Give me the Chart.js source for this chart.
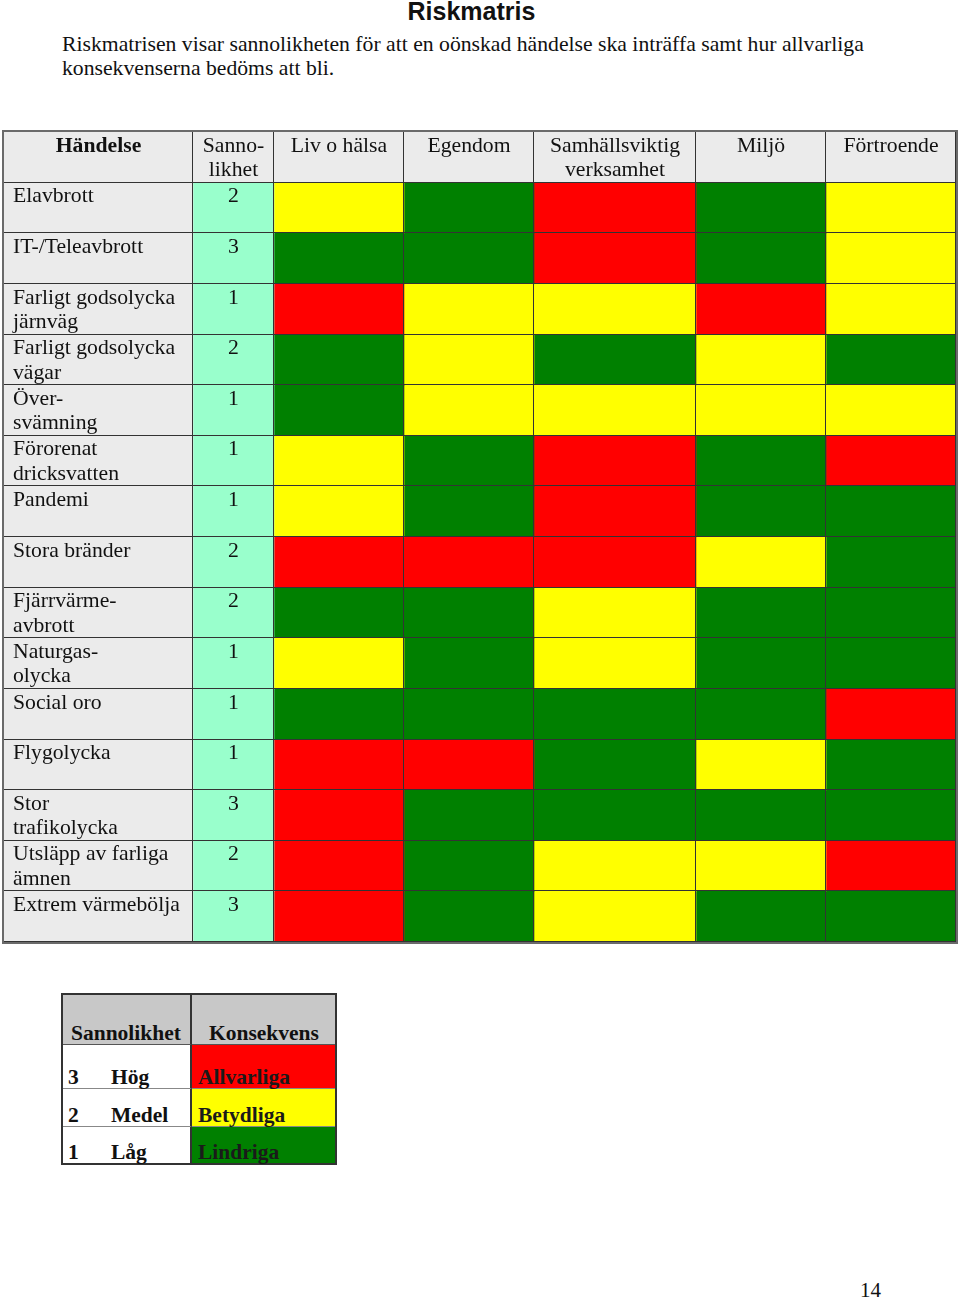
<!DOCTYPE html>
<html>
<head>
<meta charset="utf-8">
<script src="https://cdn.jsdelivr.net/npm/chart.js@4.4.1/dist/chart.umd.min.js"></script>
<style>
  body { margin: 0; width: 960px; height: 1299px; position: relative; background: #fff; font-family: "Liberation Serif", "Times New Roman", serif; color: #111; }
  h1 { position: absolute; left: 0; top: -3px; width: 943px; margin: 0; text-align: center; font: bold 25px "Liberation Sans", Arial, sans-serif; }
  .intro { position: absolute; left: 62px; top: 32px; width: 820px; margin: 0; font-size: 21.7px; line-height: 24px; }
  #wrap { position: absolute; left: 2px; top: 130px; width: 952px; height: 810px; border: 2px solid #6a6a6a; }
  #key { position: absolute; left: 61px; top: 993px; width: 272px; height: 168px; border: 2px solid #333; font-weight: bold; font-size: 21.5px; }
  #key div { position: absolute; box-sizing: border-box; }
  .pg { position: absolute; left: 860px; top: 1278px; font-size: 21px; }
</style>
</head>
<body>
<h1>Riskmatris</h1>
<p class="intro">Riskmatrisen visar sannolikheten för att en oönskad händelse ska inträffa samt hur allvarliga konsekvenserna bedöms att bli.</p>

<div id="wrap"><canvas id="matrix" width="952" height="810"></canvas></div>

<div id="key"></div>
<div class="pg">14</div>

<script>
// categories
const columns = [["Händelse"], ["Sanno-", "likhet"], ["Liv o hälsa"], ["Egendom"], ["Samhällsviktig", "verksamhet"], ["Miljö"], ["Förtroende"]];
const events = [
  ["Elavbrott"], ["IT-/Teleavbrott"], ["Farligt godsolycka", "järnväg"], ["Farligt godsolycka", "vägar"],
  ["Över-", "svämning"], ["Förorenat", "dricksvatten"], ["Pandemi"], ["Stora bränder"],
  ["Fjärrvärme-", "avbrott"], ["Naturgas-", "olycka"], ["Social oro"], ["Flygolycka"],
  ["Stor", "trafikolycka"], ["Utsläpp av farliga", "ämnen"], ["Extrem värmebölja"]
];
// sannolikhet 1-3
const likelihood = [2, 3, 1, 2, 1, 1, 1, 2, 2, 1, 1, 1, 3, 2, 3];
// konsekvens per column: 3 allvarliga, 2 betydliga, 1 lindriga
const livHalsa   = [2, 1, 3, 1, 1, 2, 2, 3, 1, 2, 1, 3, 3, 3, 3];
const egendom    = [1, 1, 2, 2, 2, 1, 1, 3, 1, 1, 1, 3, 1, 1, 1];
const samhall    = [3, 3, 2, 1, 2, 3, 3, 3, 2, 2, 1, 1, 1, 2, 2];
const miljo      = [1, 1, 3, 2, 2, 1, 1, 2, 1, 1, 1, 2, 1, 2, 1];
const fortroende = [2, 2, 2, 1, 2, 3, 1, 1, 1, 1, 3, 1, 1, 3, 1];
const consequences = [livHalsa, egendom, samhall, miljo, fortroende];

const legendLevels = ["Hög", "Medel", "Låg"];
const legendConsequence = ["Allvarliga", "Betydliga", "Lindriga"];

// layout / style
const colWidths = [189, 81, 130, 130, 162, 130, 130];
const levelColor = { 1: "#008000", 2: "#ffff00", 3: "#ff0000" };
const GREY = "#ebebeb", MINT = "#99ffcc", LINE = "#333";
const FONT = '21.7px "Liberation Serif"';

const rowLabels = ["header", ...events.map(e => e.join(" "))];

function colorsFor(ci) {
  return rowLabels.map((_, r) => {
    if (r === 0 || ci === 0) return GREY;
    if (ci === 1) return MINT;
    return levelColor[consequences[ci - 2][r - 1]];
  });
}

const datasets = colWidths.map((w, ci) => ({
  label: columns[ci].join(" "),
  data: rowLabels.map(() => w),
  backgroundColor: colorsFor(ci),
  borderWidth: 0,
  categoryPercentage: 1,
  barPercentage: 1
}));

// cell borders and texts
const cellText = {
  id: "cellText",
  afterDatasetsDraw(chart) {
    const ctx = chart.ctx;
    ctx.save();
    ctx.strokeStyle = LINE;
    ctx.lineWidth = 1;
    ctx.beginPath();
    chart.getDatasetMeta(0).data.forEach(bar => {
      const yb = Math.round(bar.y + bar.height / 2) - 0.5;
      ctx.moveTo(0, yb); ctx.lineTo(chart.width, yb);
    });
    chart.data.datasets.forEach((ds, ci) => {
      const bar = chart.getDatasetMeta(ci).data[0];
      const xr = Math.round(Math.max(bar.base, bar.x)) - 0.5;
      ctx.moveTo(xr, 0); ctx.lineTo(xr, chart.height);
    });
    ctx.stroke();

    ctx.fillStyle = "#111";
    ctx.textBaseline = "middle";
    chart.data.datasets.forEach((ds, ci) => {
      chart.getDatasetMeta(ci).data.forEach((bar, r) => {
        const top = bar.y - bar.height / 2;
        const left = Math.min(bar.base, bar.x), right = Math.max(bar.base, bar.x);
        let lines = [], align = "center";
        if (r === 0) {
          lines = columns[ci];
          ctx.font = (ci === 0 ? "bold " : "") + FONT;
        } else if (ci === 0) {
          lines = events[r - 1]; align = "left";
          ctx.font = FONT;
        } else if (ci === 1) {
          lines = [String(likelihood[r - 1])];
          ctx.font = FONT;
        }
        ctx.textAlign = align;
        const x = align === "left" ? left + 9 : (left + right) / 2;
        lines.forEach((t, li) => ctx.fillText(t, x, top + 14 + li * 24.5));
      });
    });
    ctx.restore();
  }
};

new Chart(document.getElementById("matrix"), {
  type: "bar",
  data: { labels: rowLabels, datasets },
  options: {
    indexAxis: "y",
    responsive: false,
    animation: false,
    devicePixelRatio: 1,
    layout: { padding: 0 },
    scales: {
      x: { type: "linear", stacked: true, min: 0, max: colWidths.reduce((a, b) => a + b, 0), display: false },
      y: { stacked: true, display: false }
    },
    plugins: { legend: { display: false }, tooltip: { enabled: false } }
  },
  plugins: [cellText]
});

// key table
const key = document.getElementById("key");
function cell(l, t, w, h, bg, html, extra) {
  const d = document.createElement("div");
  d.style.cssText = `left:${l}px;top:${t}px;width:${w}px;height:${h}px;background:${bg};${extra || ""}`;
  d.innerHTML = html;
  key.appendChild(d);
}
cell(0, 0, 129, 50, "#c8c8c8", "Sannolikhet", "padding:26px 0 0 8px;border-right:2px solid #333;border-bottom:1px solid #555;line-height:24px;");
cell(129, 0, 143, 50, "#c8c8c8", "Konsekvens", "padding:26px 0 0 17px;border-bottom:1px solid #555;line-height:24px;");
const rowTops = [50, 94, 132], rowHs = [44, 38, 36];
legendLevels.forEach((lv, i) => {
  const n = 3 - i;
  cell(0, rowTops[i], 129, rowHs[i], "#fff",
    `<span style="position:absolute;left:5px;bottom:-2px">${n}</span><span style="position:absolute;left:48px;bottom:-2px">${lv}</span>`,
    "border-right:2px solid #333;" + (i < 2 ? "border-bottom:1px solid #888;" : ""));
  cell(129, rowTops[i], 143, rowHs[i], levelColor[n],
    `<span style="position:absolute;left:6px;bottom:-2px;color:#1a1a1a">${legendConsequence[i]}</span>`,
    i < 2 ? "border-bottom:1px solid #888;" : "");
});
</script>
</body>
</html>
